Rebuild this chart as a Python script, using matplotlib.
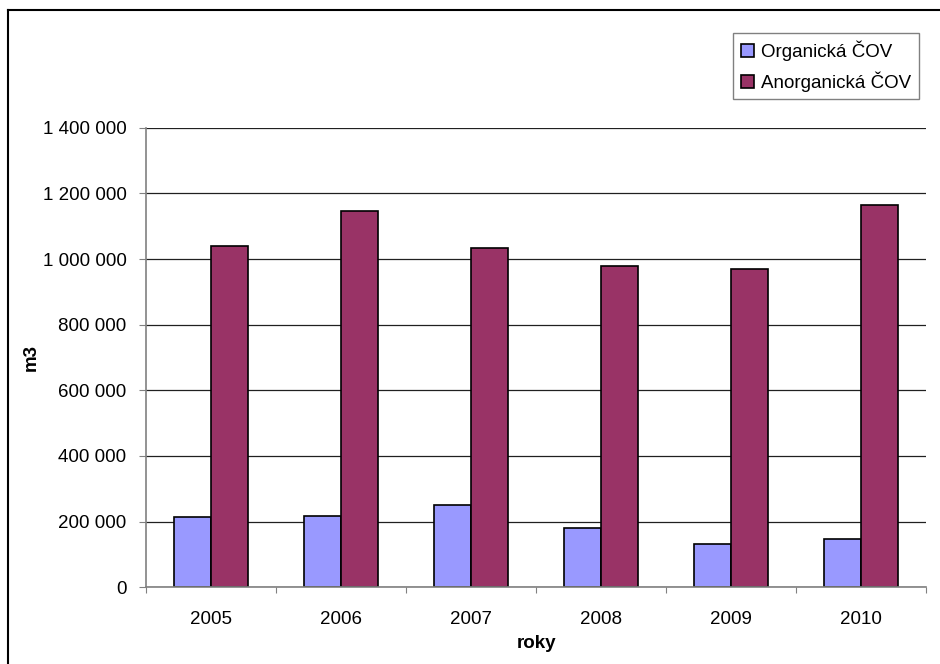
import numpy as np
import matplotlib
matplotlib.use('Agg')
import matplotlib.pyplot as plt
from matplotlib.lines import Line2D
from matplotlib.ticker import FuncFormatter, MultipleLocator

# data
roky = ['2005', '2006', '2007', '2008', '2009', '2010']
organicka = [213000, 217000, 251000, 181000, 132000, 147000]
anorganicka = [1040000, 1147000, 1033000, 978000, 970000, 1166000]

plt.rcParams['font.family'] = ['Liberation Sans', 'DejaVu Sans']
fs = 13.5

fig = plt.figure(figsize=(9.4, 6.64), dpi=100)
ax = fig.add_axes([146 / 940, 1 - 587.3 / 664, 780 / 940, (587.3 - 127.7) / 664])

x = np.arange(len(roky))
w = 1 / 3.5
ax.bar(x - w / 2, organicka, w, color='#9999FF', edgecolor='black', linewidth=1.2,
       label='Organická ČOV', zorder=3)
ax.bar(x + w / 2, anorganicka, w, color='#993366', edgecolor='black', linewidth=1.2,
       label='Anorganická ČOV', zorder=3)

ax.set_xlim(-0.5, len(roky) - 0.5)
ax.set_ylim(0, 1400000)
ax.yaxis.set_major_locator(MultipleLocator(200000))
ax.yaxis.set_major_formatter(FuncFormatter(lambda v, p: f'{int(v):,}'.replace(',', ' ')))
ax.grid(axis='y', color='#202020', linewidth=0.9, zorder=0)

# categories centered between ticks placed at boundaries
ax.set_xticks(np.arange(-0.5, len(roky)), minor=False)
ax.set_xticklabels([''] * (len(roky) + 1))
ax.set_xticks(x, minor=True)
ax.set_xticklabels(roky, minor=True)
ax.tick_params(axis='x', which='minor', length=0, pad=17, labelsize=fs)
ax.tick_params(axis='x', which='major', length=4, color='#808080')
ax.tick_params(axis='y', length=5, color='#808080', pad=9, labelsize=fs)

for s in ['top', 'right']:
    ax.spines[s].set_visible(False)
for s in ['left', 'bottom']:
    ax.spines[s].set_color('#808080')
    ax.spines[s].set_linewidth(1.2)
    ax.spines[s].set_zorder(4)

ax.set_xlabel('roky', fontsize=fs, fontweight='bold', labelpad=5)
ax.set_ylabel('m3', fontsize=fs, fontweight='bold', labelpad=2)

leg = fig.legend(loc='upper left', bbox_to_anchor=(733 / 940, 1 - 33 / 664),
                 fontsize=fs, handlelength=0.7, handleheight=0.7, handletextpad=0.4,
                 labelspacing=0.55, borderpad=0.4, borderaxespad=0, fancybox=False,
                 framealpha=1, edgecolor='#808080')
leg.get_frame().set_linewidth(1.0)

# outer chart border
fig.add_artist(Line2D([8 / 940, 8 / 940], [-0.1, 1 - 10 / 664], color='black', lw=1.5))
fig.add_artist(Line2D([8 / 940, 1.1], [1 - 10 / 664, 1 - 10 / 664], color='black', lw=1.5))

fig.savefig('out.png', dpi=100)
